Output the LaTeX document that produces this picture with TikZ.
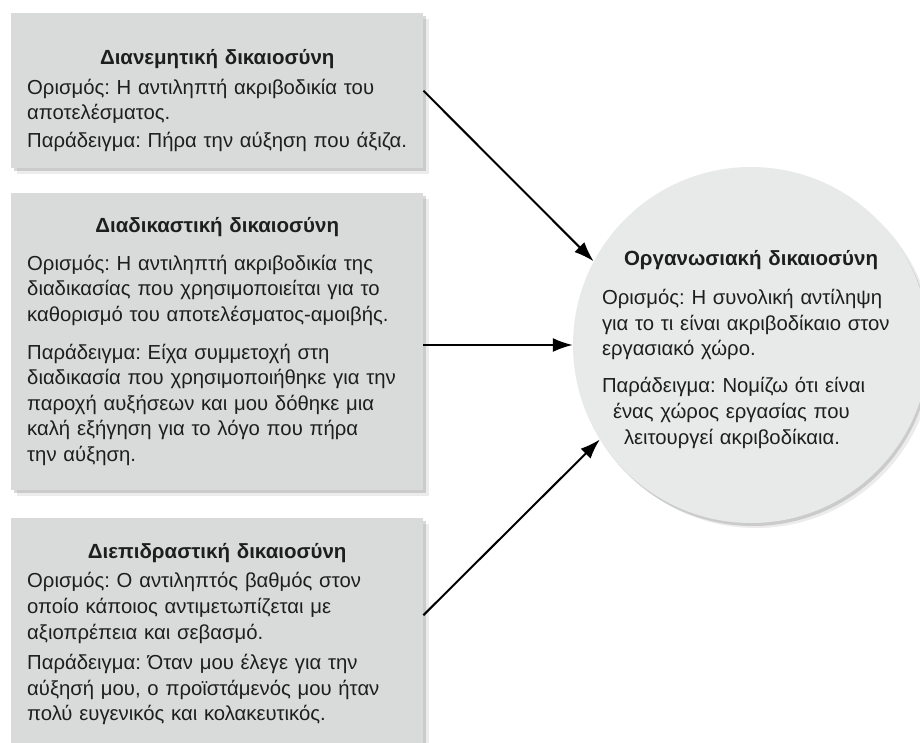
\documentclass[tikz,border=0pt]{standalone}
\usepackage{fontspec}
\setmainfont{Liberation Sans}
\usetikzlibrary{arrows.meta,shadows}
\definecolor{boxgray}{HTML}{D9DBDB}
\definecolor{circlegray}{HTML}{E8E9E9}
\definecolor{inkgray}{HTML}{1E1E1E}
\newcommand{\headline}[2][9pt]{{\centering\fontsize{20.5}{24}\selectfont\bfseries #2\par}\vspace{#1}}
\frenchspacing

\begin{document}
\begin{tikzpicture}[
  x=1pt, y=1pt,
  justbox/.style={
    fill=boxgray,
    anchor=north west,
    minimum width=412pt,
    text width=380pt,
    inner xsep=16pt,
    align=left,
    text=inkgray,
    font=\fontsize{20.3}{25.6}\selectfont,
    drop shadow={shadow xshift=6pt, shadow yshift=-6pt, opacity=.15},
    drop shadow={shadow xshift=3pt, shadow yshift=-3pt, opacity=.3}
  },
  conn/.style={-{Latex[length=20pt,width=14pt]}, line width=2pt}
]
  \useasboundingbox (0,0) rectangle (920,-743);

  \node[justbox, minimum height=155pt] (distrib) at (11,-13) {
    \headline[4pt]{Διανεμητική δικαιοσύνη}
    Ορισμός: Η αντιληπτή ακριβοδικία του\\
    αποτελέσματος.\\[2pt]
    Παράδειγμα: Πήρα την αύξηση που άξιζα.\par
    \vspace{-20pt}
  };
  \node[justbox, minimum height=297pt] (proced) at (11,-193) {
    \headline[12pt]{Διαδικαστική δικαιοσύνη}
    Ορισμός: Η αντιληπτή ακριβοδικία της\\
    διαδικασίας που χρησιμοποιείται για το\\
    καθορισμό του αποτελέσματος-αμοιβής.\\[12pt]
    Παράδειγμα: Είχα συμμετοχή στη\\
    διαδικασία που χρησιμοποιήθηκε για την\\
    παροχή αυξήσεων και μου δόθηκε μια\\
    καλή εξήγηση για το λόγο που πήρα\\
    την αύξηση.
  };
  \node[justbox, minimum height=232pt] (interact) at (11,-518) {
    \headline[4pt]{Διεπιδραστική δικαιοσύνη}
    Ορισμός: Ο αντιληπτός βαθμός στον\\
    οποίο κάποιος αντιμετωπίζεται με\\
    αξιοπρέπεια και σεβασμό.\\[5pt]
    Παράδειγμα: Όταν μου έλεγε για την\\
    αύξησή μου, ο προϊστάμενός μου ήταν\\
    πολύ ευγενικός και κολακευτικός.
  };

  \node[
    circle,
    fill=circlegray,
    minimum size=356pt,
    inner sep=0pt,
    text width=298pt,
    align=left,
    text=inkgray,
    font=\fontsize{20.3}{25.8}\selectfont,
    drop shadow={shadow xshift=5pt, shadow yshift=-5pt, opacity=.15},
    drop shadow={shadow xshift=2pt, shadow yshift=-3pt, opacity=.3}
  ] (orgjust) at (751,-345) {
    \headline[13pt]{Οργανωσιακή δικαιοσύνη}
    Ορισμός: Η συνολική αντίληψη\\
    για το τι είναι ακριβοδίκαιο στον\\
    εργασιακό χώρο.\\[11pt]
    Παράδειγμα: Νομίζω ότι είναι\\
    \hspace*{11pt}ένας χώρος εργασίας που\\
    \hspace*{22pt}λειτουργεί ακριβοδίκαια.\par
    \vspace{-9pt}
  };

  \draw[conn] (distrib.east) -- (orgjust.152);
  \draw[conn] (orgjust.west -| proced.east) -- (orgjust.west);
  \draw[conn] ([yshift=19pt]interact.east) -- (orgjust.212);
\end{tikzpicture}
\end{document}
